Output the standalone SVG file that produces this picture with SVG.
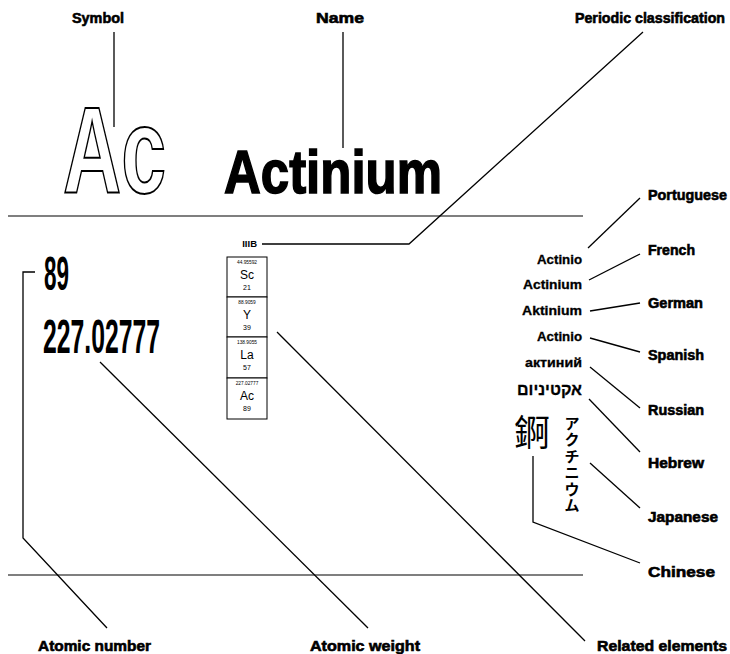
<svg xmlns="http://www.w3.org/2000/svg" width="730" height="654" viewBox="0 0 730 654">
<style>
.lbl{font-family:"Liberation Sans",Arial,sans-serif;font-weight:bold;font-size:14.5px;fill:#000;stroke:#000;stroke-width:0.6}
.w{font-family:"Liberation Sans",Arial,sans-serif;font-weight:bold;font-size:12.5px;fill:#000;stroke:#000;stroke-width:0.3}
.ln{stroke:#000;stroke-width:1.3;fill:none}
.rule{stroke:#000;stroke-width:1.2}
.cell{fill:#fff;stroke:#000;stroke-width:1}
.ct{font-family:"Liberation Sans",Arial,sans-serif;fill:#000;text-anchor:middle}
.cw{font-size:4.8px}
.cs{font-size:12px}
.cn{font-size:7px}
.big{font-family:"Liberation Sans",Arial,sans-serif;fill:#000}
.jp{font-family:"Noto Sans CJK JP",sans-serif;font-weight:bold;font-size:15px;fill:#000;text-anchor:middle}
</style>
<rect width="730" height="654" fill="#fff"/>
<line class="rule" x1="8" y1="216" x2="583" y2="216"/>
<line class="rule" x1="8" y1="575" x2="583" y2="575"/>
<g id="connectors">
<line class="ln" x1="114" y1="32" x2="114" y2="127"/>
<line class="ln" x1="343" y1="32" x2="343" y2="148"/>
<polyline class="ln" points="643,32 409,244 262,244"/>
<polyline class="ln" points="35,272 23,272 23,538 107,628"/>
<line class="ln" x1="100" y1="362" x2="368" y2="628"/>
<line class="ln" x1="277" y1="332" x2="585" y2="641"/>
<line class="ln" x1="588" y1="248" x2="640" y2="198"/>
<line class="ln" x1="589" y1="280" x2="640" y2="254"/>
<line class="ln" x1="590" y1="311" x2="640" y2="303"/>
<line class="ln" x1="590" y1="338" x2="640" y2="352"/>
<line class="ln" x1="590" y1="367" x2="640" y2="408"/>
<line class="ln" x1="589" y1="399" x2="640" y2="452"/>
<line class="ln" x1="590" y1="463" x2="640" y2="508"/>
<polyline class="ln" points="533,456 533,522 640,563"/>
</g>
<g id="symbol">
<text class="lbl" x="72" y="23" textLength="52" lengthAdjust="spacingAndGlyphs">Symbol</text>
<text x="63" y="193" font-family="Liberation Sans,Arial,sans-serif" font-weight="bold" font-size="123" fill="#fff" stroke="#000" stroke-width="2" textLength="103" lengthAdjust="spacingAndGlyphs">Ac</text>
</g>
<g id="name">
<text class="lbl" x="316" y="23" textLength="48" lengthAdjust="spacingAndGlyphs">Name</text>
<text class="big" x="224" y="193" font-weight="bold" font-size="61" stroke="#000" stroke-width="1.6" textLength="218" lengthAdjust="spacingAndGlyphs">Actinium</text>
</g>
<g id="periodic-classification">
<text class="lbl" x="725" y="23" text-anchor="end" textLength="150" lengthAdjust="spacingAndGlyphs" font-size="14">Periodic classification</text>
<text x="257" y="247" font-family="Liberation Sans,Arial,sans-serif" font-weight="bold" font-size="9.5" text-anchor="end">IIIB</text>
</g>
<g id="related-elements">
<rect class="cell" x="227" y="257" width="40" height="40"/>
<rect class="cell" x="227" y="297" width="40" height="40"/>
<rect class="cell" x="227" y="337" width="40" height="41"/>
<rect class="cell" x="227" y="378" width="40" height="41"/>
<text class="ct"><tspan class="cw" x="247" y="264">44.95592</tspan><tspan class="cs" x="247" y="278.5">Sc</tspan><tspan class="cn" x="247" y="289.5">21</tspan></text>
<text class="ct"><tspan class="cw" x="247" y="304">88.9059</tspan><tspan class="cs" x="247" y="318.5">Y</tspan><tspan class="cn" x="247" y="329.5">39</tspan></text>
<text class="ct"><tspan class="cw" x="247" y="344">138.9055</tspan><tspan class="cs" x="247" y="358.5">La</tspan><tspan class="cn" x="247" y="369.5">57</tspan></text>
<text class="ct"><tspan class="cw" x="247" y="385">227.02777</tspan><tspan class="cs" x="247" y="399.5">Ac</tspan><tspan class="cn" x="247" y="410.5">89</tspan></text>
<text class="lbl" x="597" y="651" textLength="130" lengthAdjust="spacingAndGlyphs">Related elements</text>
</g>
<g id="atomic-number">
<text class="big" x="44" y="290" font-size="48" font-weight="bold" textLength="25" lengthAdjust="spacingAndGlyphs">89</text>
<text class="lbl" x="38" y="651" textLength="113" lengthAdjust="spacingAndGlyphs">Atomic number</text>
</g>
<g id="atomic-weight">
<text class="big" x="43" y="353" font-size="48" font-weight="bold" textLength="117" lengthAdjust="spacingAndGlyphs">227.02777</text>
<text class="lbl" x="310" y="651" textLength="110" lengthAdjust="spacingAndGlyphs">Atomic weight</text>
</g>
<g id="portuguese">
<text class="w" x="582" y="264" text-anchor="end" textLength="45" lengthAdjust="spacingAndGlyphs">Actinio</text>
<text class="lbl" x="648" y="200" textLength="79" lengthAdjust="spacingAndGlyphs">Portuguese</text>
</g>
<g id="french">
<text class="w" x="582" y="289" text-anchor="end" textLength="59" lengthAdjust="spacingAndGlyphs">Actinium</text>
<text class="lbl" x="648" y="255" textLength="47" lengthAdjust="spacingAndGlyphs">French</text>
</g>
<g id="german">
<text class="w" x="582" y="315" text-anchor="end" textLength="60" lengthAdjust="spacingAndGlyphs">Aktinium</text>
<text class="lbl" x="648" y="308" textLength="55" lengthAdjust="spacingAndGlyphs">German</text>
</g>
<g id="spanish">
<text class="w" x="582" y="341" text-anchor="end" textLength="45" lengthAdjust="spacingAndGlyphs">Actinio</text>
<text class="lbl" x="648" y="360" textLength="56" lengthAdjust="spacingAndGlyphs">Spanish</text>
</g>
<g id="russian">
<text class="w" x="582" y="367" text-anchor="end" textLength="57" lengthAdjust="spacingAndGlyphs">актиний</text>
<text class="lbl" x="648" y="415" textLength="56" lengthAdjust="spacingAndGlyphs">Russian</text>
</g>
<g id="hebrew">
<text x="582" y="395" font-family="Liberation Sans,DejaVu Sans,sans-serif" font-weight="bold" font-size="16" stroke="#000" stroke-width="0.3" text-anchor="end">אקטיניום</text>
<text class="lbl" x="648" y="468" textLength="56" lengthAdjust="spacingAndGlyphs">Hebrew</text>
</g>
<g id="japanese">
<text class="jp" x="572" y="429">ア</text>
<text class="jp" x="572" y="445">ク</text>
<text class="jp" x="572" y="462">チ</text>
<text class="jp" x="572" y="478">ニ</text>
<text class="jp" x="572" y="495">ウ</text>
<text class="jp" x="572" y="511">ム</text>
<text class="lbl" x="648" y="522" textLength="70" lengthAdjust="spacingAndGlyphs">Japanese</text>
</g>
<g id="chinese">
<text x="532" y="446" font-family="Noto Sans CJK SC,sans-serif" font-size="36" text-anchor="middle" fill="#000">錒</text>
<text class="lbl" x="648" y="577" textLength="67" lengthAdjust="spacingAndGlyphs">Chinese</text>
</g>
</svg>
